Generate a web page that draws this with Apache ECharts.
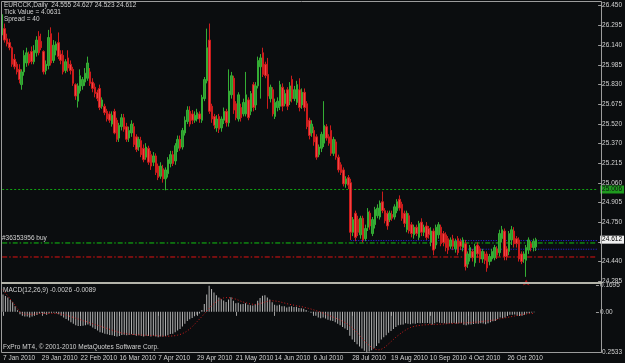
<!DOCTYPE html>
<html>
<head>
<meta charset="utf-8">
<script src="https://cdn.jsdelivr.net/npm/echarts@6/dist/echarts.min.js"></script>
<style>
  html, body { margin: 0; padding: 0; background: #0b0d0f; }
  #chart { width: 625px; height: 363px; }
</style>
</head>
<body>
<div id="chart"></div>
<script>
// x axis date labels, one every 16 bars
const dateLabels = ['7 Jan 2010', '29 Jan 2010', '22 Feb 2010', '16 Mar 2010', '7 Apr 2010', '29 Apr 2010',
  '21 May 2010', '14 Jun 2010', '6 Jul 2010', '28 Jul 2010', '19 Aug 2010', '10 Sep 2010', '4 Oct 2010', '26 Oct 2010'];

// price scale ticks, bottom to top (24.595 is hidden behind the bid box)
const priceTicks = ['24.285', '24.440', '', '24.750', '24.905', '25.060', '25.215', '25.370',
  '25.520', '25.675', '25.830', '25.985', '26.140', '26.295', '26.450'];
const macdTicks = ['-0.2533', '0.00', '0.1695'];

// daily bars: [open, close, low, high]
const bars = [
  [26.22,26.38,26.20,26.40],[26.27,26.18,26.16,26.31],[26.19,26.15,26.13,26.23],[26.16,26.12,26.10,26.19],[26.12,25.99,25.97,26.13],
  [26.03,25.97,25.95,26.07],[25.99,25.93,25.91,26.01],[25.95,25.87,25.84,25.99],[25.83,25.93,25.79,25.95],[25.93,26.06,25.90,26.10],
  [26.00,26.08,25.97,26.12],[26.07,26.00,25.98,26.09],[26.09,26.01,25.99,26.13],[26.01,26.10,25.99,26.14],[26.08,26.18,26.05,26.21],
  [26.21,26.08,26.06,26.25],[26.17,26.12,26.10,26.23],[26.09,25.93,25.91,26.10],[25.94,25.99,25.91,26.02],[25.98,26.20,25.95,26.26],
  [26.23,26.00,25.98,26.28],[26.02,26.14,26.00,26.18],[26.10,26.15,26.06,26.17],[26.16,26.05,26.03,26.24],[26.07,26.02,25.99,26.10],
  [26.06,25.93,25.91,26.10],[25.94,26.01,25.92,26.03],[26.04,25.96,25.93,26.10],[25.99,25.94,25.91,26.02],[25.95,25.84,25.82,25.97],
  [25.83,25.74,25.71,25.84],[25.70,25.82,25.65,25.84],[25.78,25.90,25.76,25.95],[25.82,25.87,25.79,25.89],[25.85,25.92,25.82,25.96],
  [25.88,26.00,25.86,26.05],[25.93,25.84,25.82,25.96],[25.85,25.80,25.77,25.88],[25.81,25.76,25.73,25.84],[25.77,25.72,25.70,25.79],
  [25.80,25.65,25.63,25.83],[25.66,25.71,25.64,25.73],[25.66,25.61,25.59,25.68],[25.62,25.56,25.54,25.64],[25.60,25.55,25.53,25.62],
  [25.52,25.59,25.50,25.62],[25.62,25.45,25.44,25.64],[25.55,25.40,25.38,25.57],[25.41,25.51,25.38,25.53],[25.50,25.57,25.47,25.60],
  [25.57,25.48,25.46,25.60],[25.50,25.40,25.38,25.53],[25.41,25.47,25.38,25.50],[25.45,25.52,25.42,25.55],[25.50,25.36,25.34,25.53],
  [25.42,25.32,25.30,25.44],[25.34,25.40,25.31,25.42],[25.39,25.28,25.26,25.42],[25.33,25.24,25.22,25.36],[25.26,25.34,25.24,25.37],
  [25.33,25.22,25.20,25.35],[25.28,25.19,25.16,25.31],[25.22,25.27,25.19,25.30],[25.27,25.14,25.12,25.29],[25.19,25.10,25.08,25.21],
  [25.11,25.19,25.09,25.22],[25.17,25.09,25.06,25.20],[25.09,25.16,25.00,25.18],[25.13,25.24,25.10,25.26],[25.21,25.28,25.18,25.31],
  [25.28,25.21,25.19,25.31],[25.23,25.35,25.20,25.37],[25.33,25.40,25.30,25.43],[25.40,25.33,25.31,25.43],[25.34,25.47,25.32,25.49],
  [25.45,25.55,25.43,25.58],[25.54,25.63,25.52,25.66],[25.62,25.52,25.50,25.66],[25.60,25.55,25.52,25.63],[25.55,25.59,25.53,25.62],
  [25.56,25.61,25.54,25.64],[25.60,25.56,25.53,25.62],[25.55,25.73,25.53,25.75],[25.72,25.87,25.70,25.89],[25.86,26.12,25.84,26.27],
  [26.18,25.62,25.60,26.31],[25.66,25.56,25.53,25.68],[25.58,25.51,25.48,25.60],[25.49,25.56,25.46,25.59],[25.58,25.48,25.45,25.60],
  [25.49,25.56,25.46,25.58],[25.55,25.62,25.52,25.65],[25.62,25.53,25.50,25.64],[25.53,25.78,25.50,25.95],[25.75,25.90,25.72,25.93],
  [25.88,25.63,25.60,25.90],[25.68,25.57,25.55,25.70],[25.56,25.75,25.54,25.77],[25.65,25.57,25.54,25.68],[25.60,25.69,25.58,25.72],
  [25.60,25.75,25.58,25.93],[25.71,25.57,25.55,25.73],[25.62,25.76,25.59,25.78],[25.83,25.65,25.62,25.85],[25.67,25.82,25.63,25.85],
  [25.82,26.02,25.80,26.05],[25.97,26.04,25.72,26.07],[26.08,25.91,25.89,26.12],[25.99,25.90,25.88,26.01],[25.91,25.74,25.64,26.04],
  [25.72,25.81,25.69,25.83],[25.79,25.60,25.58,25.81],[25.58,25.69,25.56,25.72],[25.65,25.70,25.62,25.73],[25.66,25.83,25.63,25.86],
  [25.81,25.66,25.62,25.84],[25.68,25.76,25.66,25.79],[25.79,25.66,25.63,25.81],[25.70,25.82,25.67,25.85],[25.87,25.72,25.69,25.90],
  [25.72,25.79,25.70,25.82],[25.69,25.83,25.67,25.86],[25.79,25.65,25.62,25.88],[25.67,25.77,25.64,25.80],[25.77,25.65,25.62,25.80],
  [25.68,25.50,25.48,25.70],[25.55,25.43,25.40,25.57],[25.45,25.52,25.42,25.55],[25.47,25.38,25.35,25.50],[25.42,25.26,25.24,25.44],
  [25.28,25.34,25.26,25.36],[25.33,25.44,25.30,25.46],[25.37,25.51,25.34,25.70],[25.50,25.41,25.39,25.52],[25.42,25.37,25.35,25.44],
  [25.47,25.29,25.27,25.51],[25.29,25.40,25.27,25.42],[25.38,25.26,25.24,25.40],[25.26,25.16,25.14,25.28],[25.20,25.14,25.12,25.22],
  [25.16,25.05,25.03,25.18],[25.05,25.09,25.02,25.11],[25.10,25.04,25.01,25.12],[25.06,24.67,24.61,25.09],[24.67,24.77,24.64,24.79],
  [24.82,24.63,24.60,24.84],[24.77,24.67,24.64,24.80],[24.65,24.78,24.62,24.80],[24.78,24.61,24.59,24.80],[24.62,24.70,24.60,24.73],
  [24.71,24.83,24.68,24.86],[24.82,24.72,24.69,24.84],[24.66,24.77,24.64,24.79],[24.73,24.85,24.70,24.87],[24.80,24.86,24.78,24.89],
  [24.79,24.90,24.77,24.92],[24.91,24.84,24.82,24.99],[24.84,24.76,24.74,24.86],[24.82,24.72,24.69,24.84],[24.77,24.82,24.75,24.84],
  [24.81,24.78,24.76,24.84],[24.79,24.87,24.77,24.89],[24.84,24.91,24.82,24.93],[24.93,24.86,24.84,24.96],[24.89,24.78,24.76,24.91],
  [24.82,24.74,24.71,24.84],[24.69,24.82,24.67,24.84],[24.80,24.68,24.66,24.82],[24.73,24.66,24.63,24.75],[24.65,24.71,24.62,24.73],
  [24.71,24.66,24.64,24.73],[24.63,24.74,24.61,24.76],[24.75,24.67,24.64,24.78],[24.67,24.71,24.64,24.73],[24.72,24.63,24.61,24.75],
  [24.70,24.65,24.62,24.72],[24.59,24.68,24.56,24.71],[24.68,24.53,24.49,24.70],[24.57,24.71,24.54,24.73],[24.65,24.73,24.62,24.75],
  [24.71,24.58,24.56,24.73],[24.66,24.59,24.56,24.68],[24.65,24.55,24.52,24.67],[24.62,24.53,24.50,24.64],[24.56,24.61,24.54,24.63],
  [24.62,24.56,24.53,24.65],[24.54,24.60,24.51,24.62],[24.62,24.51,24.49,24.64],[24.60,24.56,24.53,24.62],[24.55,24.61,24.52,24.63],
  [24.58,24.40,24.37,24.61],[24.42,24.50,24.39,24.52],[24.47,24.55,24.44,24.57],[24.52,24.47,24.44,24.54],[24.43,24.56,24.40,24.58],
  [24.57,24.50,24.47,24.59],[24.54,24.46,24.43,24.56],[24.46,24.52,24.43,24.54],[24.50,24.45,24.42,24.52],[24.50,24.39,24.36,24.52],
  [24.44,24.48,24.41,24.50],[24.46,24.52,24.44,24.54],[24.47,24.55,24.45,24.57],[24.54,24.49,24.46,24.56],[24.51,24.66,24.48,24.69],
  [24.62,24.69,24.59,24.72],[24.68,24.48,24.45,24.70],[24.54,24.48,24.45,24.56],[24.52,24.66,24.49,24.68],[24.61,24.69,24.57,24.72],
  [24.68,24.58,24.55,24.71],[24.62,24.58,24.55,24.64],[24.61,24.46,24.44,24.63],[24.50,24.44,24.42,24.52],[24.46,24.50,24.43,24.52],
  [24.45,24.55,24.32,24.57],[24.53,24.61,24.50,24.63],[24.58,24.55,24.52,24.60],[24.55,24.60,24.52,24.62],[24.555,24.612,24.523,24.627]
];

// MACD(12,26,9) main values (histogram) and signal (dotted line)
const macdHist = [
  0.11,0.10,0.09,0.075,0.06,0.035,0.01,-0.015,-0.025,-0.03,
  -0.03,-0.035,-0.03,-0.025,-0.02,-0.01,-0.005,-0.012,-0.018,-0.008,
  -0.006,-0.005,-0.008,-0.015,-0.025,-0.035,-0.045,-0.055,-0.065,-0.075,
  -0.085,-0.09,-0.09,-0.088,-0.085,-0.08,-0.088,-0.098,-0.108,-0.118,
  -0.128,-0.132,-0.138,-0.142,-0.146,-0.148,-0.152,-0.156,-0.152,-0.146,
  -0.144,-0.148,-0.146,-0.142,-0.146,-0.15,-0.148,-0.152,-0.155,-0.15,
  -0.152,-0.156,-0.15,-0.155,-0.16,-0.156,-0.155,-0.152,-0.148,-0.14,
  -0.138,-0.128,-0.118,-0.108,-0.092,-0.075,-0.058,-0.046,-0.038,-0.028,
  -0.018,-0.01,0.012,0.05,0.11,0.165,0.145,0.122,0.105,0.09,
  0.08,0.072,0.062,0.078,0.092,0.07,0.055,0.058,0.048,0.05,
  0.055,0.045,0.042,0.04,0.048,0.07,0.088,0.102,0.105,0.09,
  0.078,0.06,0.045,0.04,0.045,0.035,0.035,0.028,0.032,0.035,
  0.03,0.032,0.025,0.022,0.02,0.012,0.002,-0.005,-0.012,-0.025,
  -0.035,-0.04,-0.035,-0.042,-0.05,-0.055,-0.058,-0.065,-0.075,-0.085,
  -0.095,-0.105,-0.115,-0.15,-0.175,-0.19,-0.205,-0.218,-0.232,-0.245,
  -0.2533,-0.25,-0.242,-0.23,-0.215,-0.198,-0.175,-0.16,-0.148,-0.132,
  -0.12,-0.108,-0.095,-0.085,-0.082,-0.08,-0.072,-0.075,-0.078,-0.074,
  -0.075,-0.07,-0.072,-0.07,-0.072,-0.07,-0.074,-0.08,-0.072,-0.065,
  -0.068,-0.07,-0.072,-0.075,-0.072,-0.072,-0.07,-0.074,-0.072,-0.07,
  -0.082,-0.084,-0.08,-0.08,-0.076,-0.074,-0.075,-0.072,-0.074,-0.078,
  -0.072,-0.066,-0.06,-0.058,-0.045,-0.035,-0.038,-0.036,-0.025,-0.018,
  -0.018,-0.016,-0.024,-0.026,-0.024,-0.018,-0.01,-0.008,-0.004,-0.0026
];
const macdSignal = [
  0.14,0.12,0.10,0.08,0.06,0.04,0.02,0.00,-0.01,-0.015,
  -0.015,-0.015,-0.015,-0.015,-0.012,-0.01,-0.01,-0.01,-0.01,-0.01,
  -0.01,-0.01,-0.01,-0.012,-0.015,-0.018,-0.02,-0.025,-0.03,-0.035,
  -0.04,-0.045,-0.05,-0.055,-0.06,-0.065,-0.07,-0.075,-0.08,-0.085,
  -0.09,-0.095,-0.10,-0.105,-0.11,-0.115,-0.12,-0.125,-0.13,-0.133,
  -0.136,-0.138,-0.14,-0.142,-0.143,-0.144,-0.145,-0.146,-0.147,-0.148,
  -0.148,-0.149,-0.15,-0.15,-0.151,-0.152,-0.153,-0.154,-0.154,-0.153,
  -0.152,-0.15,-0.147,-0.143,-0.137,-0.13,-0.12,-0.108,-0.094,-0.078,
  -0.062,-0.046,-0.03,-0.012,0.005,0.022,0.038,0.052,0.065,0.075,
  0.083,0.088,0.09,0.09,0.088,0.085,0.08,0.074,0.068,0.062,
  0.058,0.054,0.05,0.048,0.047,0.048,0.052,0.057,0.062,0.066,
  0.069,0.07,0.069,0.067,0.064,0.06,0.056,0.052,0.048,0.045,
  0.042,0.039,0.036,0.033,0.03,0.026,0.022,0.018,0.013,0.008,
  0.003,-0.002,-0.008,-0.014,-0.02,-0.026,-0.032,-0.038,-0.045,-0.052,
  -0.06,-0.068,-0.077,-0.088,-0.10,-0.115,-0.13,-0.148,-0.165,-0.182,
  -0.198,-0.212,-0.224,-0.233,-0.238,-0.24,-0.236,-0.228,-0.216,-0.202,
  -0.188,-0.174,-0.16,-0.148,-0.136,-0.125,-0.115,-0.106,-0.099,-0.094,
  -0.09,-0.087,-0.085,-0.083,-0.082,-0.081,-0.08,-0.08,-0.079,-0.079,
  -0.078,-0.077,-0.076,-0.075,-0.074,-0.073,-0.072,-0.072,-0.071,-0.07,
  -0.07,-0.069,-0.068,-0.067,-0.066,-0.065,-0.064,-0.062,-0.06,-0.058,
  -0.056,-0.054,-0.052,-0.05,-0.047,-0.044,-0.041,-0.038,-0.035,-0.032,
  -0.029,-0.026,-0.023,-0.02,-0.017,-0.015,-0.013,-0.011,-0.01,-0.0089
];

// horizontal levels on the price window
const gridLevel = 25.006;
const bidPrice = 24.612;
const orderPrice = 24.586;
const stopPrice = 24.476;
const blueLines = [[143, 24.605], [183, 24.537]]; // [start bar, price]
const arrowMark = [215, 24.30];

const SLOTS = 245;       // bar slots across the window (chart shift on the right)
const LABEL_EVERY = 16;
const PRICE_LO = 24.285;
const PRICE_STEP = (26.450 - 24.285) / 14;
const py = (p) => (p - PRICE_LO) / PRICE_STEP;

const slots = Array.from({ length: SLOTS }, (_, i) => String(i));
const candles = bars.map((b) => b.map(py));
const isLabelSlot = (i) => i % LABEL_EVERY === 0 && i / LABEL_EVERY < dateLabels.length;

const font = "'Liberation Sans', Arial, sans-serif";
const txt = '#d2d2d2';
const frame = '#9c9c9c';
const dashDot = [5, 2, 1.5, 2];

// a horizontal level from bar `from` to the right edge, as its own line series
function levelSeries(price, from, color, dash) {
  return {
    type: 'line', xAxisIndex: 0, yAxisIndex: 0, silent: true, symbol: 'none', z: 3,
    data: [[from, py(price)], [SLOTS - 1, py(price)]],
    lineStyle: { color: color, type: dash, width: 1 }
  };
}

const chart = echarts.init(document.getElementById('chart'));
chart.setOption({
  backgroundColor: '#0b0d0f',
  animation: false,
  grid: [
    { left: 1, width: 600, top: 5.7, height: 275.6 },
    { left: 1, width: 600, top: 285, height: 67 }
  ],
  xAxis: [
    { type: 'category', gridIndex: 0, data: slots, show: false },
    {
      type: 'category', gridIndex: 1, data: slots,
      axisLine: { show: false },
      axisTick: { show: true, alignWithLabel: true, interval: isLabelSlot, length: 4, lineStyle: { color: frame } },
      axisLabel: {
        interval: isLabelSlot, formatter: (v, i) => dateLabels[i / LABEL_EVERY],
        align: 'left', margin: 3, color: txt, fontSize: 6.5, fontFamily: font
      },
      splitLine: { show: false }
    }
  ],
  yAxis: [
    {
      type: 'value', gridIndex: 0, position: 'right', min: 0, max: 14, interval: 1,
      axisLine: { show: false },
      axisTick: { show: true, length: 3, lineStyle: { color: frame } },
      axisLabel: { formatter: (v) => priceTicks[Math.round(v)], margin: 4, color: txt, fontSize: 6.5, fontFamily: font },
      splitLine: { show: false }
    },
    {
      type: 'value', gridIndex: 1, position: 'right', min: -0.2533, max: 0.1695, interval: 0.2533,
      axisLine: { show: false },
      axisTick: { show: true, length: 3, lineStyle: { color: frame } },
      axisLabel: { formatter: (v, i) => macdTicks[i], margin: 4, color: txt, fontSize: 6.5, fontFamily: font },
      splitLine: { show: false }
    }
  ],
  series: [
    levelSeries(gridLevel, 0, '#11a611', [2, 2]),
    levelSeries(orderPrice, 0, '#12c412', dashDot),
    levelSeries(stopPrice, 0, '#e01212', dashDot),
    ...blueLines.map(([start, p]) => levelSeries(p, start, '#2828f0', [1, 1.5])),
    {
      type: 'candlestick', xAxisIndex: 0, yAxisIndex: 0, data: candles, barWidth: 2, z: 4,
      itemStyle: { color: '#2e962e', color0: '#f04646', borderColor: '#34ad34', borderColor0: '#cc1c1c', borderWidth: 1 },
      markLine: {
        silent: true, symbol: ['none', 'none'], precision: 4, animation: false,
        lineStyle: { color: 'rgba(0,0,0,0)', width: 0 },
        data: [
          { yAxis: py(gridLevel), label: { show: true, position: 'end', distance: 2, formatter: gridLevel.toFixed(3), backgroundColor: '#1f9a1f',
            color: '#0b0d0f', padding: [1, 2, 0, 2], fontSize: 6.5, fontFamily: font } },
          { yAxis: py(bidPrice), label: { show: true, position: 'end', distance: 2, formatter: bidPrice.toFixed(3), backgroundColor: '#f0f0f0',
            color: '#000', padding: [1, 2, 0, 2], fontSize: 6.5, fontFamily: font } },
          { yAxis: py(orderPrice), label: { show: true, position: 'insideStartTop', distance: 1, formatter: '#36353956 buy',
            color: txt, fontSize: 6.5, fontFamily: font } }
        ]
      },
      markPoint: {
        silent: true, animation: false,
        data: [{ coord: [arrowMark[0], py(arrowMark[1])], symbol: 'arrow', symbolSize: [5, 6], itemStyle: { color: '#b01010' }, label: { show: false } }]
      }
    },
    {
      type: 'bar', xAxisIndex: 1, yAxisIndex: 1, data: macdHist, barWidth: 1,
      itemStyle: { color: '#b4b4b4' }
    },
    {
      type: 'line', xAxisIndex: 1, yAxisIndex: 1, data: macdSignal, symbol: 'none',
      lineStyle: { color: '#d21c1c', type: [1, 2], width: 1 }
    }
  ],
  graphic: [
    { type: 'rect', silent: true, z: 100, shape: { x: 1.5, y: 1.5, width: 600, height: 351 }, style: { fill: null, stroke: frame, lineWidth: 1 } },
    { type: 'rect', silent: true, z: 100, shape: { x: 1, y: 282, width: 601, height: 2 }, style: { fill: '#b4b4aa' } },
    { type: 'text', silent: true, z: 100, x: 4, y: 2, style: { text: 'EURCCK,Daily  24.555 24.627 24.523 24.612', fill: txt, fontSize: 6.5, fontFamily: font } },
    { type: 'text', silent: true, z: 100, x: 4, y: 9, style: { text: 'Tick Value = 4.0631', fill: txt, fontSize: 6.5, fontFamily: font } },
    { type: 'text', silent: true, z: 100, x: 4, y: 16, style: { text: 'Spread = 40', fill: txt, fontSize: 6.5, fontFamily: font } },
    { type: 'text', silent: true, z: 100, x: 3, y: 286.5, style: { text: 'MACD(12,26,9) -0.0026 -0.0089', fill: txt, fontSize: 6.5, fontFamily: font } },
    { type: 'text', silent: true, z: 100, x: 3, y: 344, style: { text: 'FxPro MT4, © 2001-2010 MetaQuotes Software Corp.', fill: txt, fontSize: 6.5, fontFamily: font } }
  ]
});
</script>
</body>
</html>
